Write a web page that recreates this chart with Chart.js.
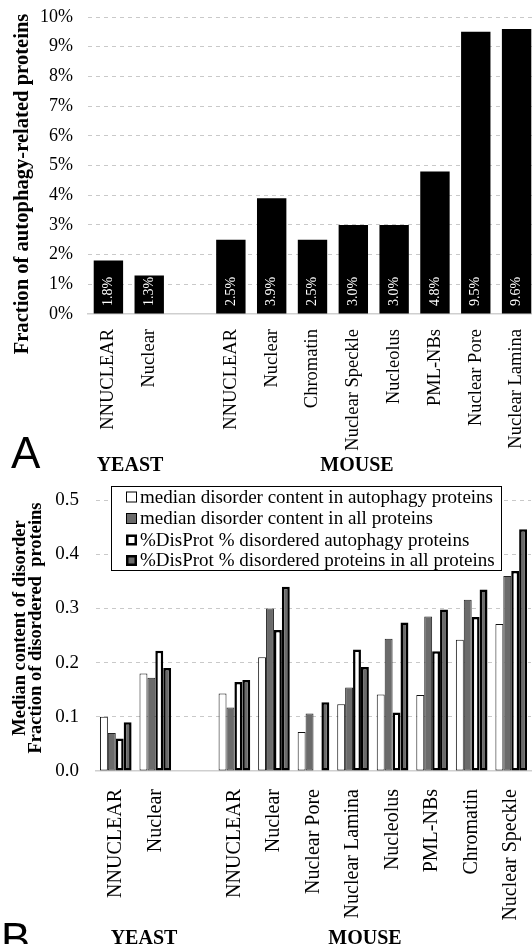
<!DOCTYPE html>
<html>
<head>
<meta charset="utf-8">
<script src="https://cdn.jsdelivr.net/npm/chart.js@4.4.1/dist/chart.umd.min.js"></script>
<style>
  html, body { margin: 0; padding: 0; background: #fff; width: 532px; height: 944px; overflow: hidden; }
  .panel { position: relative; width: 532px; overflow: hidden; }
  #wrapA { height: 480px; }
  #wrapB { height: 464px; }
  canvas { display: block; }
</style>
</head>
<body>
<div class="panel" id="wrapA"><canvas id="chartA" width="545" height="480"></canvas></div>
<div class="panel" id="wrapB"><canvas id="chartB" width="532" height="464"></canvas></div>
<script>
const SERIF = '"Liberation Serif", "Times New Roman", Times, serif';
const SANS = '"Liberation Sans", Arial, sans-serif';

// ---- Panel A: fraction of autophagy-related proteins per compartment (%) ----
const compartmentsA = ['NNUCLEAR', 'Nuclear', '', 'NNUCLEAR', 'Nuclear', 'Chromatin',
  'Nuclear Speckle', 'Nucleolus', 'PML-NBs', 'Nuclear Pore', 'Nuclear Lamina'];
const autophagyFraction = [1.8, 1.3, null, 2.5, 3.9, 2.5, 3.0, 3.0, 4.8, 9.5, 9.6];
const percentTickLabels = ['0%', '1%', '2%', '3%', '4%', '5%', '6%', '7%', '8%', '9%', '10%'];

// ---- Panel B: disorder content per compartment ----
const compartmentsB = ['NNUCLEAR', 'Nuclear', '', 'NNUCLEAR', 'Nuclear', 'Nuclear Pore',
  'Nuclear Lamina', 'Nucleolus', 'PML-NBs', 'Chromatin', 'Nuclear Speckle'];
const seriesNamesB = [
  'median disorder content in autophagy proteins',
  'median disorder content in all proteins',
  '%DisProt % disordered autophagy proteins',
  '%DisProt % disordered proteins in all proteins'
];
const medianAutophagy  = [0.100, 0.180, null, 0.143, 0.210, 0.072, 0.123, 0.141, 0.140, 0.242, 0.271];
const medianAll        = [0.070, 0.172, null, 0.117, 0.300, 0.106, 0.154, 0.244, 0.285, 0.316, 0.360];
const disprotAutophagy = [0.060, 0.222, null, 0.164, 0.260, 0.000, 0.224, 0.108, 0.221, 0.284, 0.369];
const disprotAll       = [0.090, 0.190, null, 0.168, 0.340, 0.127, 0.192, 0.274, 0.298, 0.335, 0.446];
const disorderTickLabels = ['0.0', '0.1', '0.2', '0.3', '0.4', '0.5'];

const GRAY = '#6b6b6b';
const GRID = '#c9c9c9';

// free text (titles, panel letters, organism names) drawn onto a chart
const textPlugin = {
  id: 'panelText',
  afterDraw(chart, args, opts) {
    const ctx = chart.ctx;
    (opts.items || []).forEach(it => {
      ctx.save();
      ctx.font = it.font;
      ctx.fillStyle = it.color || '#000';
      ctx.textAlign = it.align || 'center';
      ctx.textBaseline = it.baseline || 'alphabetic';
      ctx.translate(it.x, it.y);
      if (it.rotate) ctx.rotate(it.rotate);
      ctx.fillText(it.text, 0, 0);
      ctx.restore();
    });
  }
};

// value labels written vertically inside the bars of panel A
const barValuePlugin = {
  id: 'barValues',
  afterDatasetsDraw(chart) {
    const ctx = chart.ctx;
    const meta = chart.getDatasetMeta(0);
    const base = chart.scales.y.getPixelForValue(0);
    meta.data.forEach((bar, i) => {
      const v = chart.data.datasets[0].data[i];
      if (v === null || v === undefined) return;
      ctx.save();
      ctx.font = '14px ' + SERIF;
      ctx.fillStyle = '#fff';
      ctx.textAlign = 'left';
      ctx.textBaseline = 'middle';
      ctx.translate(bar.x, base - 8);
      ctx.rotate(-Math.PI / 2);
      ctx.fillText(v.toFixed(1) + '%', 0, 0);
      ctx.restore();
    });
  }
};

// boxed legend placed over the plot area of panel B
const boxLegendPlugin = {
  id: 'boxLegend',
  afterDatasetsDraw(chart, args, opts) {
    const ctx = chart.ctx;
    const b = opts.box;
    ctx.save();
    ctx.fillStyle = '#fff';
    ctx.fillRect(b.x, b.y, b.w, b.h);
    ctx.strokeStyle = '#000';
    ctx.lineWidth = 1;
    ctx.strokeRect(b.x + 0.5, b.y + 0.5, b.w, b.h);
    chart.data.datasets.forEach((ds, i) => {
      const cy = opts.rows[i];
      const s = opts.swatch;
      ctx.fillStyle = ds.backgroundColor;
      ctx.fillRect(opts.swatchX, cy - s / 2, s, s);
      const bw = ds.borderWidth > 1.5 ? 2.5 : 1;
      ctx.strokeStyle = '#000';
      ctx.lineWidth = bw;
      ctx.strokeRect(opts.swatchX + bw / 2, cy - s / 2 + bw / 2, s - bw, s - bw);
      ctx.fillStyle = '#000';
      ctx.font = opts.font;
      ctx.textAlign = 'left';
      ctx.textBaseline = 'middle';
      ctx.fillText(ds.label, opts.textX, cy + 1);
    });
    ctx.restore();
  }
};

Chart.register(textPlugin);

// fixed axis box sizes so the plot area lands where it should
function fixY(width) {
  return scale => { scale.width = width; scale.paddingTop = 0; scale.paddingBottom = 0; };
}
function fixX(height) {
  return scale => { scale.height = height; scale.paddingLeft = 0; scale.paddingRight = 0; };
}

// ---------- Chart A ----------
new Chart(document.getElementById('chartA'), {
  type: 'bar',
  data: {
    labels: compartmentsA,
    datasets: [{
      label: 'Fraction of autophagy-related proteins',
      data: autophagyFraction,
      backgroundColor: '#000',
      borderWidth: 0,
      barPercentage: 0.9,
      categoryPercentage: 0.8
    }]
  },
  options: {
    responsive: false,
    animation: false,
    devicePixelRatio: 1,
    layout: { padding: { top: 17, right: 8, left: 0, bottom: 0 } },
    plugins: {
      legend: { display: false },
      tooltip: { enabled: false },
      panelText: {
        items: [
          { text: 'Fraction of autophagy-related proteins', x: 23, y: 184, rotate: -Math.PI / 2,
            font: 'bold 20.6px ' + SERIF, baseline: 'middle' },
          { text: 'A', x: 11, y: 468, align: 'left', font: '44px ' + SANS },
          { text: 'YEAST', x: 130, y: 471, font: 'bold 20px ' + SERIF },
          { text: 'MOUSE', x: 357, y: 471, font: 'bold 20px ' + SERIF }
        ]
      }
    },
    scales: {
      x: {
        afterFit: fixX(166),
        grid: { display: false },
        border: { display: true, color: '#cfcfcf', width: 1.5 },
        ticks: {
          autoSkip: false, minRotation: 90, maxRotation: 90, padding: 7,
          color: '#000', font: { family: SERIF, size: 18.5 }
        }
      },
      y: {
        min: 0, max: 10,
        afterFit: fixY(88),
        grid: {
          drawTicks: false, lineWidth: 1,
          color: ctx => (ctx.tick && ctx.tick.value === 0) ? 'rgba(0,0,0,0)' : GRID
        },
        border: { display: false, dash: [4, 4] },
        ticks: {
          stepSize: 1, padding: 15, color: '#000',
          font: { family: SERIF, size: 18 },
          callback: (v, i) => percentTickLabels[i]
        }
      }
    }
  },
  plugins: [barValuePlugin]
});

// ---------- Chart B ----------
new Chart(document.getElementById('chartB'), {
  type: 'bar',
  data: {
    labels: compartmentsB,
    datasets: [
      { label: seriesNamesB[0], data: medianAutophagy, backgroundColor: '#fff', borderColor: '#111', borderWidth: 1 },
      { label: seriesNamesB[1], data: medianAll, backgroundColor: GRAY, borderColor: '#222', borderWidth: 1 },
      { label: seriesNamesB[2], data: disprotAutophagy, backgroundColor: '#fff', borderColor: '#000', borderWidth: 2.5 },
      { label: seriesNamesB[3], data: disprotAll, backgroundColor: GRAY, borderColor: '#000', borderWidth: 2.5 }
    ].map(d => Object.assign(d, { barPercentage: 1, categoryPercentage: 0.8, borderSkipped: false }))
  },
  options: {
    responsive: false,
    animation: false,
    devicePixelRatio: 1,
    layout: { padding: { top: 20, right: 1, left: 0, bottom: 0 } },
    plugins: {
      legend: { display: false },
      tooltip: { enabled: false },
      boxLegend: {
        box: { x: 111, y: 6, w: 390, h: 84 },
        rows: [17, 38.5, 60, 80.5],
        swatch: 11,
        swatchX: 126,
        textX: 140,
        font: '19px ' + SERIF
      },
      panelText: {
        items: [
          { text: 'Median content of disorder', x: 20, y: 148, rotate: -Math.PI / 2,
            font: 'bold 18.5px ' + SERIF, baseline: 'middle' },
          { text: 'Fraction of disordered  proteins', x: 36, y: 148, rotate: -Math.PI / 2,
            font: 'bold 18.5px ' + SERIF, baseline: 'middle' },
          { text: 'B', x: 1, y: 474, align: 'left', font: '44px ' + SANS },
          { text: 'YEAST', x: 144, y: 464, font: 'bold 20px ' + SERIF },
          { text: 'MOUSE', x: 365, y: 464, font: 'bold 20px ' + SERIF }
        ]
      }
    },
    scales: {
      x: {
        afterFit: fixX(173),
        grid: { display: false },
        border: { display: true, color: '#cfcfcf', width: 1.5 },
        ticks: {
          autoSkip: false, minRotation: 90, maxRotation: 90, padding: 10,
          color: '#000', font: { family: SERIF, size: 20 }
        }
      },
      y: {
        min: 0, max: 0.5,
        afterFit: fixY(96),
        grid: {
          drawTicks: false, lineWidth: 1,
          color: ctx => (ctx.tick && ctx.tick.value === 0) ? 'rgba(0,0,0,0)' : GRID
        },
        border: { display: false, dash: [4, 4] },
        ticks: {
          stepSize: 0.1, padding: 17, color: '#000',
          font: { family: SERIF, size: 19 },
          callback: (v, i) => disorderTickLabels[i]
        }
      }
    }
  },
  plugins: [boxLegendPlugin]
});
</script>
</body>
</html>
